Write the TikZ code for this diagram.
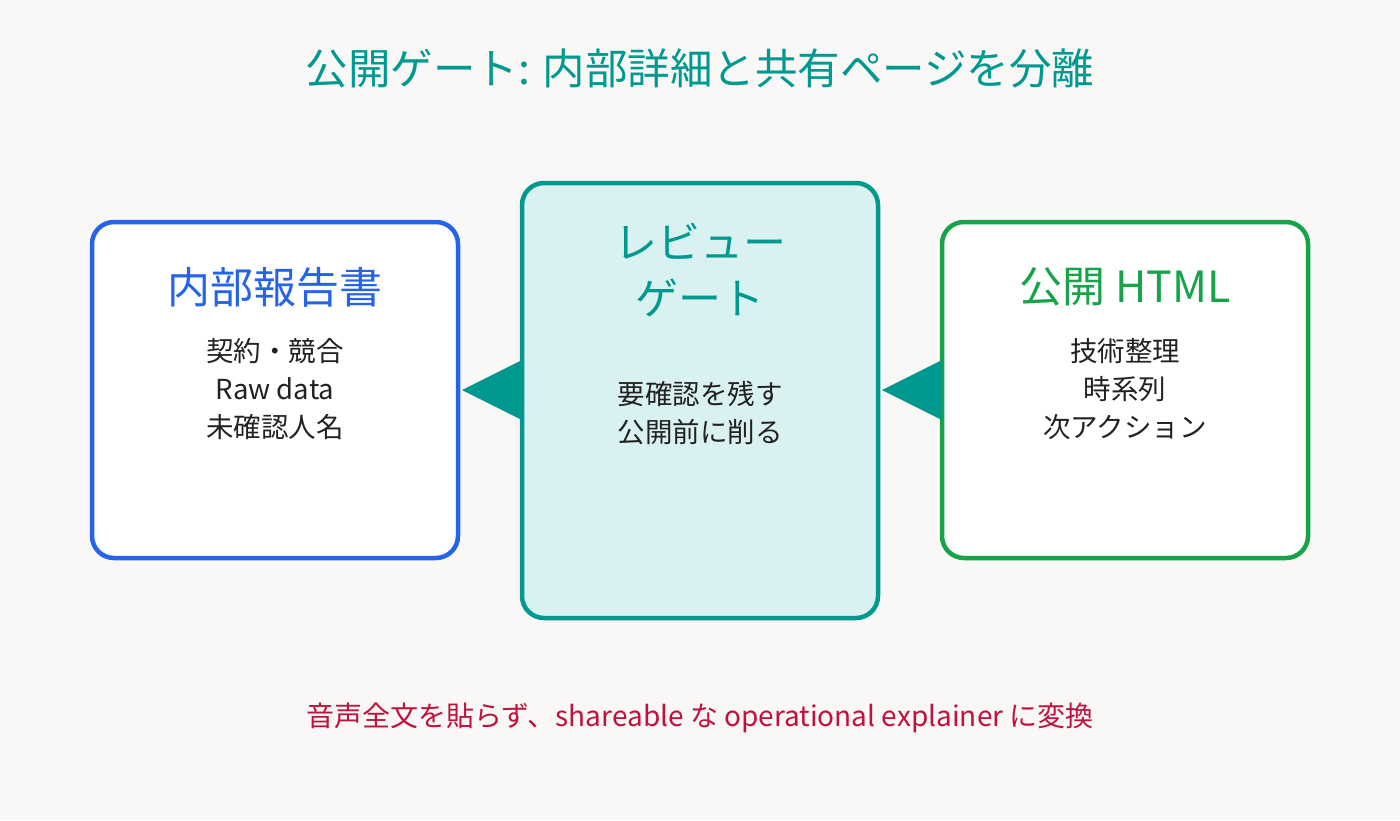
\documentclass[tikz,border=0pt]{standalone}
\usepackage{fontspec}
\setmainfont{Noto Sans CJK JP}
\definecolor{bg}{HTML}{F9F8F6}
\definecolor{teal}{HTML}{009990}
\definecolor{tealfill}{HTML}{D9F2F1}
\definecolor{blu}{HTML}{2563EB}
\definecolor{grn}{HTML}{16A34A}
\definecolor{txt}{HTML}{222222}
\definecolor{red}{HTML}{BE123C}
\begin{document}
\begin{tikzpicture}[x=1pt,y=-1pt,
 box/.style={line width=4.5pt,rounded corners=22pt,fill=white},
 hd/.style={font=\fontsize{43}{50}\selectfont,align=center},
 bd/.style={font=\fontsize{27.5}{38}\selectfont,text=txt,align=center},
 arr/.style={fill=teal,draw=none}]
\fill[bg] (0,0) rectangle (1400,820);
\useasboundingbox (0,0) rectangle (1400,820);
\node[font=\fontsize{42.5}{50}\selectfont,text=teal] (title) at (700,68) {公開ゲート: 内部詳細と共有ページを分離};
\draw[box,draw=blu] (92,222) rectangle (458,558);
\draw[box,draw=teal,fill=tealfill] (522,183) rectangle (878,618);
\draw[box,draw=grn] (942,222) rectangle (1308,558);
\coordinate (lw) at (522,390);
\coordinate (rw) at (942,390);
\fill[arr] (lw) ++(0,-30) -- ++(-60,30) -- ++(60,30) -- cycle;
\fill[arr] (rw) ++(0,-30) -- ++(-60,30) -- ++(60,30) -- cycle;
\node[hd,text=blu] (lt) at (275,287) {内部報告書};
\node[bd] (lb) at (275,389) {契約・競合\\Raw data\\未確認人名};
\node[hd,text=teal,font=\fontsize{43}{56}\selectfont] (ct) at (700,270) {レビュー\\ゲート};
\node[bd] (cb) at (700,413) {要確認を残す\\公開前に削る};
\node[hd,text=grn] (rt) at (1125,287) {公開 HTML};
\node[bd] (rb) at (1125,389) {技術整理\\時系列\\次アクション};
\node[font=\fontsize{28}{34}\selectfont,text=red] (foot) at (700,718) {音声全文を貼らず、shareable な operational explainer に変換};
\end{tikzpicture}
\end{document}
